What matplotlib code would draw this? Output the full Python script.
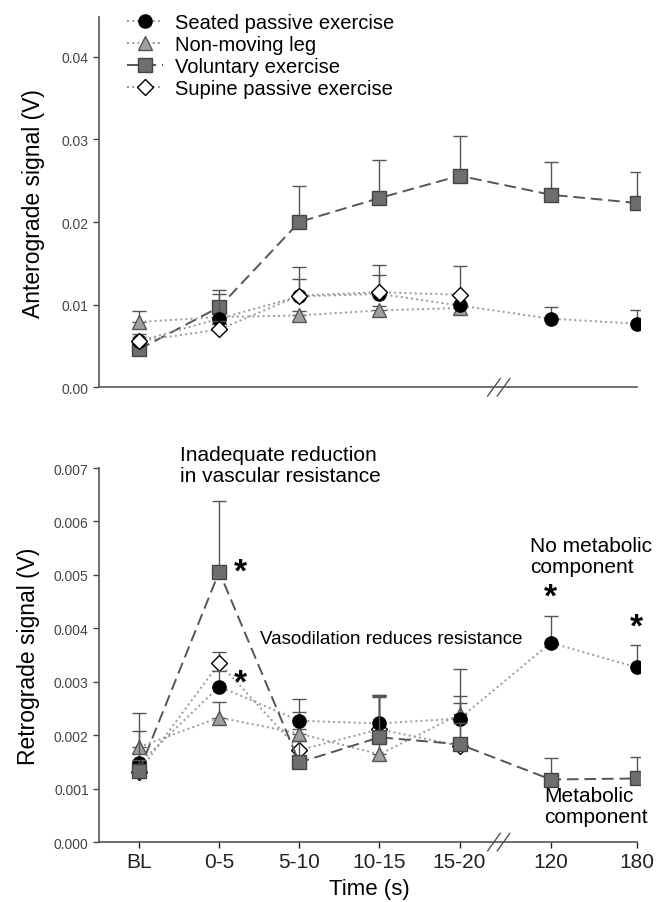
import matplotlib
matplotlib.use("Agg")
import matplotlib.pyplot as plt

plt.rcParams['font.family'] = ['Liberation Sans', 'DejaVu Sans']

# categories and their positions on the broken time axis
times = ["BL", "0-5", "5-10", "10-15", "15-20", "120", "180"]
xpos = [0, 1, 2, 3, 4, 5.14, 6.21]

# anterograde signal (V): mean and upper SE
ant_seated = [0.0056, 0.0083, 0.0110, 0.0113, 0.0099, 0.0083, 0.0077]
ant_seated_err = [0.0008, 0.0030, 0.0021, 0.0023, 0.0012, 0.0014, 0.0016]
ant_nonmov = [0.0079, 0.0085, 0.0087, 0.0093, 0.0096]
ant_nonmov_err = [0.0013, 0.0005, 0.0005, 0.0005, 0.0005]
ant_vol = [0.0046, 0.0097, 0.0200, 0.0229, 0.0256, 0.0233, 0.0223]
ant_vol_err = [0.0005, 0.0021, 0.0044, 0.0046, 0.0048, 0.0040, 0.0038]
ant_supine = [0.0056, 0.0070, 0.0111, 0.0115, 0.0112]
ant_supine_err = [0.0005, 0.0010, 0.0035, 0.0033, 0.0035]

# retrograde signal (V)
ret_seated = [0.00147, 0.00291, 0.00227, 0.00222, 0.00231, 0.00373, 0.00327]
ret_seated_err = [0.00095, 0.0003, 0.00041, 0.00053, 0.00092, 0.0005, 0.00042]
ret_nonmov = [0.00178, 0.00233, 0.00203, 0.00164, 0.00239]
ret_nonmov_err = [0.0003, 0.0003, 0.0004, 0.0011, 0.00035]
ret_vol = [0.00133, 0.00506, 0.00149, 0.00196, 0.00183, 0.00117, 0.00119]
ret_vol_err = [0.0002, 0.00133, 0.0004, 0.0008, 0.0004, 0.0004, 0.0004]
ret_supine = [0.00132, 0.00335, 0.00172, 0.00211, 0.0018]
ret_supine_err = [0.0002, 0.0002, 0.0004, 0.0006, 0.0008]

order = ['seated', 'nonmov', 'vol', 'supine']
axcol = '#555555'
styles = {
    'seated': dict(marker='o', mfc='black', mec='black', ls=':', color='#999999', label='Seated passive exercise'),
    'nonmov': dict(marker='^', mfc='#a0a0a0', mec='#555555', ls=':', color='#999999', label='Non-moving leg'),
    'vol': dict(marker='s', mfc='#6e6e6e', mec='#444444', ls=(0, (6, 3)), color='#555555', label='Voluntary exercise'),
    'supine': dict(marker='D', mfc='white', mec='black', ls=':', color='#999999', label='Supine passive exercise', ms=8),
}


def draw(ax, key, y, err, z):
    st = dict(styles[key])
    ms = st.pop('ms', 9.5)
    x = xpos[:len(y)]
    ax.errorbar(x, y, yerr=[[0] * len(y), err], fmt='none', ecolor=axcol,
                elinewidth=1, capsize=5, capthick=1, zorder=z)
    line, = ax.plot(x, y, lw=1.4, ms=ms, mew=1, zorder=z + 0.5, **st)
    return line


def style_axes(ax):
    for s in ['top', 'right']:
        ax.spines[s].set_visible(False)
    for s in ['left', 'bottom']:
        ax.spines[s].set_color(axcol)
        ax.spines[s].set_linewidth(1.2)
    ax.tick_params(colors='#444444', labelsize=10, width=1, length=4)
    ax.set_xlim(-0.5, 6.25)
    ax.spines['bottom'].set_bounds(-0.5, 6.21)
    # axis break marks
    for dx in (-0.06, 0.06):
        ax.annotate('', xy=(4.49 + dx + 0.1, 0.03), xycoords=('data', 'axes fraction'),
                    xytext=(4.49 + dx - 0.1, -0.03), textcoords=('data', 'axes fraction'),
                    arrowprops=dict(arrowstyle='-', color=axcol, lw=1))


fig = plt.figure(figsize=(6.65, 9.03), dpi=100)
ax1 = fig.add_axes([0.149, 0.570, 0.813, 0.41])
ax2 = fig.add_axes([0.149, 0.0664, 0.813, 0.4142])

# top panel
handles = {}
handles['vol'] = draw(ax1, 'vol', ant_vol, ant_vol_err, 2)
handles['nonmov'] = draw(ax1, 'nonmov', ant_nonmov, ant_nonmov_err, 3)
handles['seated'] = draw(ax1, 'seated', ant_seated, ant_seated_err, 4)
handles['supine'] = draw(ax1, 'supine', ant_supine, ant_supine_err, 5)
ax1.set_ylim(0, 0.0448)
ax1.set_yticks([0, 0.01, 0.02, 0.03, 0.04])
ax1.set_yticklabels(['0.00', '0.01', '0.02', '0.03', '0.04'])
ax1.set_xticks([])
style_axes(ax1)
ax1.set_ylabel('Anterograde signal (V)', fontsize=16.5, labelpad=12)
ax1.legend([handles[k] for k in order], [styles[k]['label'] for k in order],
           loc='upper left', bbox_to_anchor=(0.025, 1.05), frameon=False, fontsize=14.5,
           handlelength=1.8, handletextpad=0.6, labelspacing=0.15, borderpad=0.2)

# bottom panel
draw(ax2, 'vol', ret_vol, ret_vol_err, 5)
draw(ax2, 'nonmov', ret_nonmov, ret_nonmov_err, 3)
draw(ax2, 'seated', ret_seated, ret_seated_err, 4)
draw(ax2, 'supine', ret_supine, ret_supine_err, 2)
ax2.set_ylim(0, 0.007)
ax2.set_yticks([0.001 * i for i in range(8)])
ax2.set_yticklabels(['%.3f' % (0.001 * i) for i in range(8)])
ax2.set_xticks(xpos)
ax2.set_xticklabels(times)
style_axes(ax2)
ax2.tick_params(axis='x', labelsize=15, pad=3, colors='#222222')
ax2.set_ylabel('Retrograde signal (V)', fontsize=16.5, labelpad=10)
ax2.set_xlabel('Time (s)', fontsize=16, labelpad=5)

ax2.text(0.51, 0.00706, 'Inadequate reduction\nin vascular resistance',
         fontsize=15, ha='left', va='center', linespacing=1.1)
ax2.text(1.26, 0.00505, '*', fontsize=24, fontweight='bold', ha='center', va='center')
ax2.text(1.26, 0.00297, '*', fontsize=24, fontweight='bold', ha='center', va='center')
ax2.text(xpos[5], 0.00458, '*', fontsize=24, fontweight='bold', ha='center', va='center')
ax2.text(xpos[6], 0.00402, '*', fontsize=24, fontweight='bold', ha='center', va='center')
ax2.text(1.51, 0.0038, 'Vasodilation reduces resistance', fontsize=13.5, va='center')
ax2.text(4.88, 0.00536, 'No metabolic\ncomponent', fontsize=15, va='center',
         linespacing=1.15, clip_on=False)
ax2.text(5.06, 0.00068, 'Metabolic\ncomponent', fontsize=15, va='center',
         linespacing=1.15, clip_on=False)

fig.savefig('out.png', dpi=100)
